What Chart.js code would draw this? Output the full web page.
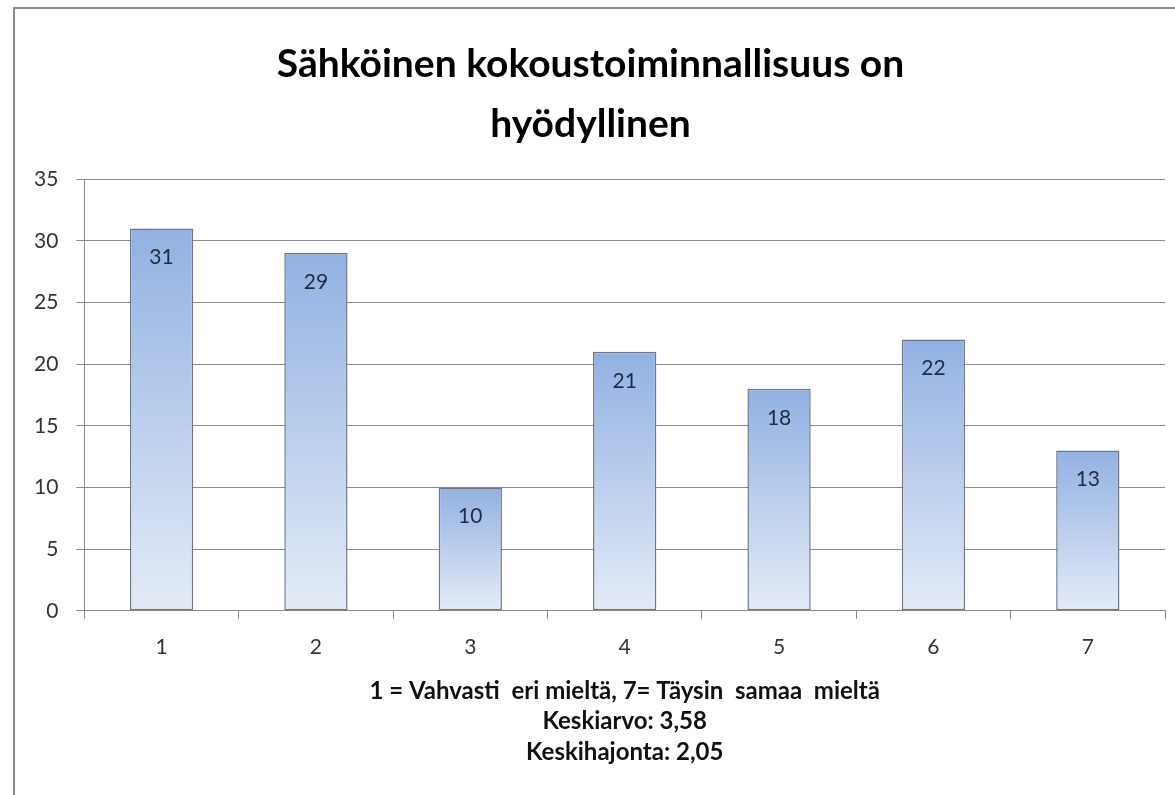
<!DOCTYPE html>
<html>
<head>
<meta charset="utf-8">
<script src="https://cdn.jsdelivr.net/npm/chart.js@4"></script>
<style>
  html, body { margin: 0; padding: 0; background: #fff; }
  #wrap { width: 1175px; height: 795px; position: relative; }
</style>
</head>
<body>
<div id="wrap"><canvas id="chart" width="1175" height="795"></canvas></div>
<script>
// ---------------------------------------------------------------------------
// Data
// ---------------------------------------------------------------------------

const categories = ['1', '2', '3', '4', '5', '6', '7'];
const counts     = [31, 29, 10, 21, 18, 22, 13];
const titleLines = ['Sähköinen kokoustoiminnallisuus on', 'hyödyllinen'];
const axisNotes  = [
  '1 = Vahvasti  eri mieltä, 7= Täysin  samaa  mieltä',
  'Keskiarvo: 3,58',
  'Keskihajonta: 2,05'
];

const FONT = 'Lato, "Open Sans", sans-serif';

// ---------------------------------------------------------------------------
// Helpers
// ---------------------------------------------------------------------------

function barGradient(ctx) {
  const chart = ctx.chart;
  if (!chart.chartArea) return '#b4c8ea';
  const y = chart.scales.y;
  const top = y.getPixelForValue(ctx.raw);
  const bottom = y.getPixelForValue(0);
  const g = chart.ctx.createLinearGradient(0, top, 0, bottom);
  g.addColorStop(0, '#92b1e2');
  g.addColorStop(1, '#e4ebf7');
  return g;
}

const frame = {
  id: 'frame',
  beforeDraw(chart) {
    const c = chart.ctx;
    c.save();
    c.strokeStyle = '#8c8c8c';
    c.lineWidth = 2;
    c.strokeRect(14, 8, 1200, 900);
    c.restore();
  }
};

const valueLabels = {
  id: 'valueLabels',
  afterDatasetsDraw(chart) {
    const c = chart.ctx;
    const meta = chart.getDatasetMeta(0);
    c.save();
    c.font = '21px ' + FONT;
    c.fillStyle = '#1f2b45';
    c.textAlign = 'center';
    c.textBaseline = 'middle';
    meta.data.forEach(function (bar, i) {
      c.fillText(String(counts[i]), bar.x, bar.y + 29);
    });
    c.restore();
  }
};

// axis note lines under the category labels
const notes = {
  id: 'notes',
  afterDraw(chart) {
    const c = chart.ctx;
    const area = chart.chartArea;
    const cx = (area.left + area.right) / 2;
    c.save();
    c.font = 'bold 24px ' + FONT;
    c.fillStyle = '#111';
    c.textAlign = 'center';
    c.textBaseline = 'middle';
    axisNotes.forEach(function (line, i) {
      c.fillText(line, cx, area.bottom + 80 + i * 30.5);
    });
    c.restore();
  }
};

// ---------------------------------------------------------------------------
// Chart
// ---------------------------------------------------------------------------

new Chart(document.getElementById('chart').getContext('2d'), {
  type: 'bar',
  data: {
    labels: categories,
    datasets: [{
      data: counts,
      backgroundColor: barGradient,
      borderColor: '#6f7785',
      borderWidth: 1.5,
      borderSkipped: false,
      barPercentage: 0.41,
      categoryPercentage: 1
    }]
  },
  options: {
    responsive: false,
    animation: false,
    layout: { padding: { left: 16, right: 10, top: 34, bottom: 119 } },
    plugins: {
      legend: { display: false },
      tooltip: { enabled: false },
      title: {
        display: true,
        text: titleLines,
        color: '#000',
        font: { family: FONT, size: 39, weight: 'bold', lineHeight: 1.54 },
        padding: { top: 0, bottom: 25 }
      }
    },
    scales: {
      y: {
        min: 0,
        max: 35,
        ticks: { stepSize: 5, color: '#333', font: { family: FONT, size: 21 }, padding: 18 },
        grid: { color: '#8a8a8a', lineWidth: 1, tickLength: 8 },
        border: { color: '#8a8a8a' }
      },
      x: {
        ticks: { color: '#333', font: { family: FONT, size: 21 }, padding: 16 },
        grid: { offset: true, drawOnChartArea: false, tickLength: 8, color: '#8a8a8a' },
        border: { color: '#8a8a8a' }
      }
    }
  },
  plugins: [frame, valueLabels, notes]
});
</script>
</body>
</html>
